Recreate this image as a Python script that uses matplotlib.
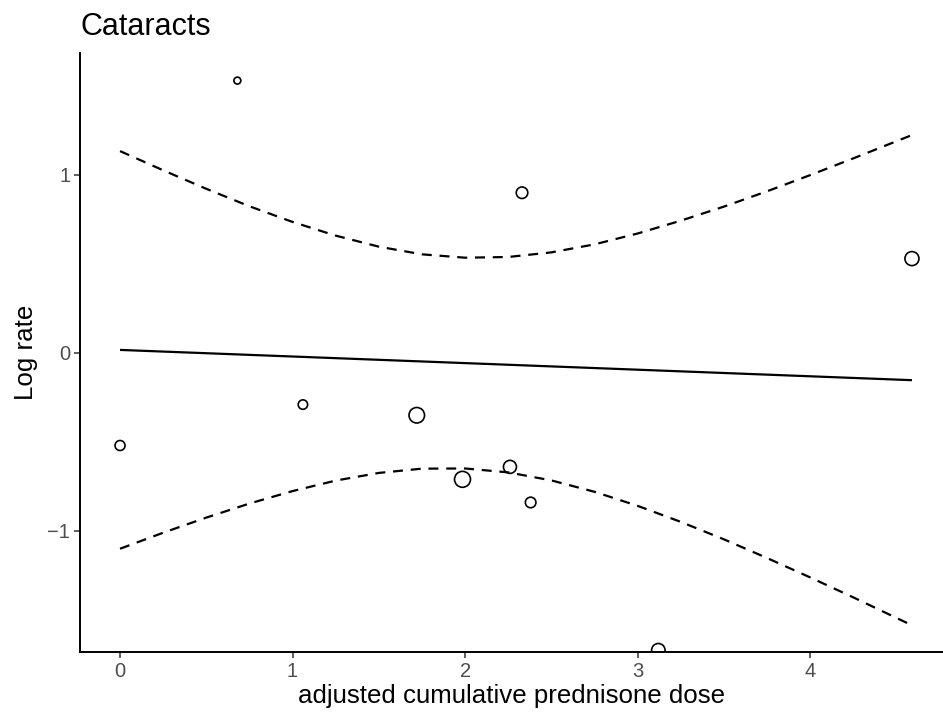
import matplotlib.pyplot as plt
import numpy as np

# pontos observados (dose ajustada, log da taxa, peso)
dose = [0.0, 0.68, 1.06, 1.72, 1.985, 2.26, 2.38, 2.33, 4.59, 3.12]
log_rate = [-0.52, 1.53, -0.29, -0.35, -0.71, -0.64, -0.84, 0.90, 0.53, -1.67]
weight = [52, 25, 46, 125, 132, 88, 58, 69, 102, 94]

# reta ajustada
fit_x = [0.0, 4.59]
fit_y = [0.017, -0.153]

# limites de confianca
ci_x = [0.0, 0.25, 0.5, 0.75, 1.0, 1.25, 1.5, 1.75, 2.0, 2.25, 2.5, 2.75,
        3.0, 3.25, 3.5, 3.75, 4.0, 4.25, 4.59]
ci_upper = [1.134, 1.026, 0.922, 0.824, 0.736, 0.659, 0.597, 0.554, 0.535, 0.539,
            0.565, 0.610, 0.671, 0.743, 0.822, 0.908, 0.999, 1.093, 1.224]
ci_lower = [-1.100, -1.010, -0.925, -0.846, -0.776, -0.717, -0.674, -0.650, -0.649,
            -0.671, -0.716, -0.780, -0.859, -0.949, -1.047, -1.152, -1.261, -1.373, -1.530]

plt.rcParams['font.family'] = ['Liberation Sans', 'DejaVu Sans']

fig = plt.figure(figsize=(9.43, 7.21), dpi=100)
ax = fig.add_axes([80 / 943, 69 / 721, 1 - 80 / 943, (652 - 53) / 721])

ax.plot(fit_x, fit_y, color='black', lw=1.6, solid_capstyle='butt')
ax.plot(ci_x, ci_upper, color='black', lw=1.6, ls=(0, (4.5, 3.5)))
ax.plot(ci_x, ci_lower, color='black', lw=1.6, ls=(0, (4.5, 3.5)))
ax.scatter(dose, log_rate, s=weight, facecolors='none', edgecolors='black',
           linewidths=1.2, zorder=3)

ax.set_xlim(-0.232, 4.77)
ax.set_ylim(-1.68, 1.685)
ax.set_xticks([0, 1, 2, 3, 4])
ax.set_yticks([-1, 0, 1])
ax.set_yticklabels(['\u22121', '0', '1'])

for s in ['top', 'right']:
    ax.spines[s].set_visible(False)
for s in ['left', 'bottom']:
    ax.spines[s].set_linewidth(1.4)
ax.tick_params(length=4, width=1.1, color='#333333', labelcolor='#4D4D4D',
               labelsize=14.5, pad=3)

ax.set_xlabel('adjusted cumulative prednisone dose', fontsize=18.6, labelpad=2)
ax.set_ylabel('Log rate', fontsize=18.6, labelpad=7)
fig.text(80 / 943, 1 - 35 / 721, 'Cataracts', fontsize=22, ha='left', va='baseline')

fig.savefig('out.png', dpi=100)
